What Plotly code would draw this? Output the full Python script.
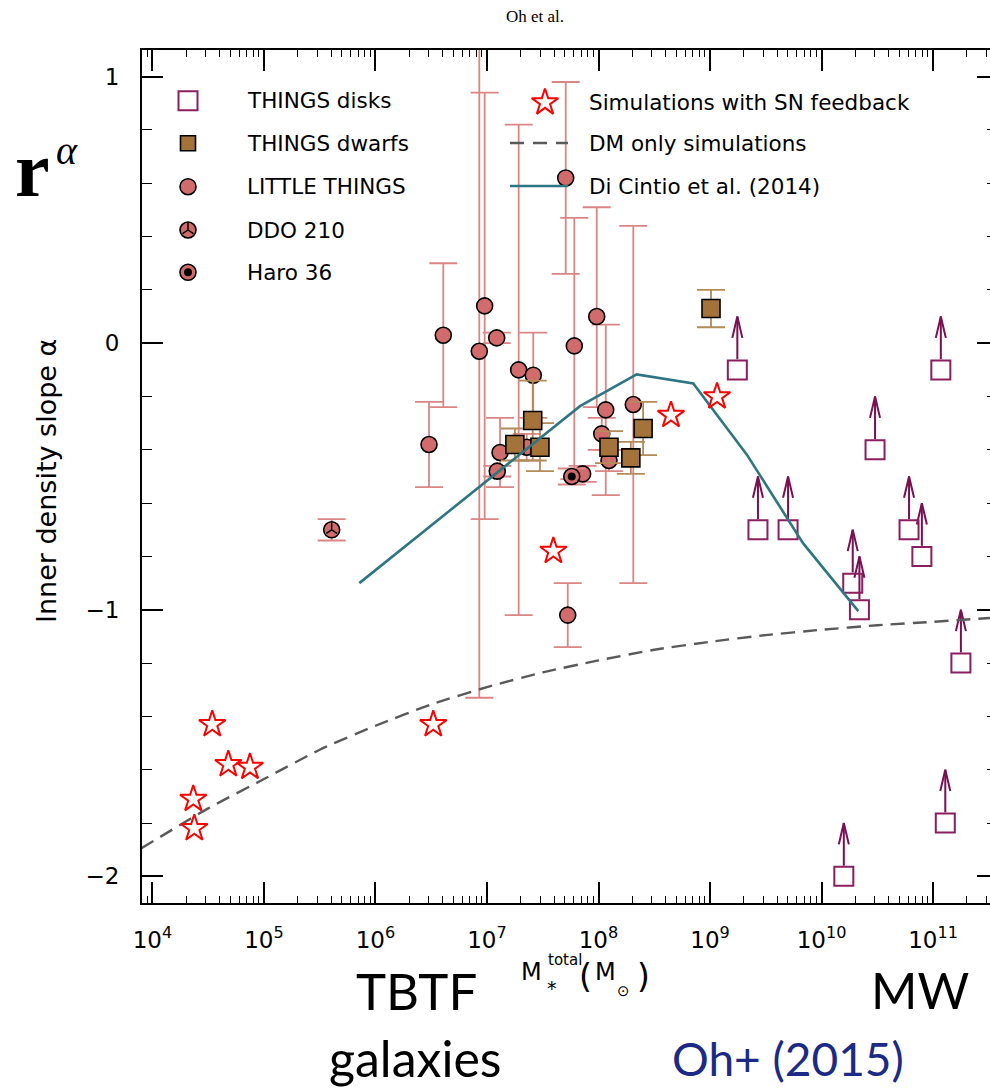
import plotly.graph_objects as go

# ---------------- data (log10 of total stellar mass, inner slope alpha) ----------------
# THINGS disk galaxies: lower limits on alpha
disk_logm = [9.245, 10.48, 9.43, 9.70, 10.28, 10.34, 10.785, 10.90, 11.07, 11.25, 11.11, 10.20]
disk_alpha = [-0.10, -0.40, -0.70, -0.70, -0.90, -1.00, -0.70, -0.80, -0.10, -1.20, -1.80, -2.00]

# THINGS dwarf galaxies
dwarf_logm = [9.009, 7.41, 7.25, 7.475, 8.094, 8.40, 8.29]
dwarf_alpha = [0.13, -0.29, -0.38, -0.39, -0.39, -0.32, -0.43]
dwarf_err = [0.07, 0.15, 0.06, 0.09, 0.06, 0.10, 0.06]

# LITTLE THINGS dwarfs
lt_logm = [6.480, 6.608, 6.931, 6.979, 7.087, 7.117, 7.092, 7.284, 7.415, 7.356,
           7.706, 7.783, 7.724, 7.858, 7.984, 8.065, 8.029, 8.094, 8.312]
lt_alpha = [-0.38, 0.03, -0.03, 0.14, 0.02, -0.41, -0.48, -0.10, -0.12, -0.39,
            0.62, -0.01, -1.02, -0.49, 0.10, -0.25, -0.34, -0.44, -0.23]
lt_err_hi = [0.16, 0.27, 1.30, 0.80, 0.02, 0.13, 0.02, 0.92, 0.16, 0.05,
             0.36, 0.48, 0.12, 0.03, 0.41, 0.32, 0.06, 0.04, 0.67]
lt_err_lo = [0.16, 0.27, 1.30, 0.80, 0.02, 0.13, 0.02, 0.92, 0.16, 0.05,
             0.36, 0.50, 0.12, 0.03, 0.34, 0.32, 0.06, 0.04, 0.67]

# individually marked LITTLE THINGS galaxies
ddo210_logm, ddo210_alpha, ddo210_err = [5.607], [-0.70], [0.04]
haro36_logm, haro36_alpha, haro36_err = [7.76], [-0.50], [0.03]

# hydrodynamical simulations with supernova feedback
sim_logm = [4.366, 4.375, 4.536, 4.680, 4.874, 6.518, 7.595, 8.650, 9.063]
sim_alpha = [-1.71, -1.82, -1.43, -1.58, -1.59, -1.43, -0.78, -0.27, -0.20]

# dark-matter-only simulations
dmo_logm = [3.90, 4.5, 5.0, 5.5, 6.0, 6.5, 7.0, 7.5, 8.0, 8.5, 9.0, 9.5, 10.0, 10.5, 11.0, 11.6]
dmo_alpha = [-1.895, -1.745, -1.635, -1.525, -1.435, -1.355, -1.29, -1.235, -1.19, -1.15,
             -1.12, -1.095, -1.075, -1.058, -1.045, -1.028]

# Di Cintio et al. (2014) relation
dc_logm = [5.855, 7.834, 8.342, 8.850, 9.329, 9.834, 10.33]
dc_alpha = [-0.90, -0.236, -0.117, -0.151, -0.417, -0.75, -1.005]

# axis ticks
x_tick_exp = [4, 5, 6, 7, 8, 9, 10, 11]
y_tick_vals = [-2, -1, 0, 1]
y_tick_text = ["\u22122", "\u22121", "0", "1"]

# ---------------- styles ----------------
W, H = 990, 1089
PLOT_L, PLOT_R, PLOT_T, PLOT_B = 142, 990, 50, 903
X_RANGE = [3.906, 11.511]
Y_RANGE = [-2.1, 1.1]

C_DISK = "#8a1f60"
C_ARROW = "#7a0f52"
C_DWARF = "#a4733a"
C_DWARF_ERR = "#b48a58"
C_LT = "#d26c6c"
C_LT_ERR = "#dc8585"
C_SIM = "#ff0000"
C_DMO = "#5a5a5a"
C_DC = "#2e7681"
C_NAVY = "#1c2a86"

TXT_FONT = "DejaVu Sans"
BIG_FONT = "Lato"
SERIF = "Liberation Serif"


def fx(px):
    return (px - PLOT_L) / (PLOT_R - PLOT_L)


def fy(py):
    return (PLOT_B - py) / (PLOT_B - PLOT_T)


def mass(logs):
    return [10 ** v for v in logs]


fig = go.Figure()

# LITTLE THINGS with error bars
fig.add_trace(go.Scatter(
    x=mass(lt_logm), y=lt_alpha, mode="markers",
    marker=dict(symbol="circle", size=16, color=C_LT, line=dict(color="black", width=1.6)),
    error_y=dict(type="data", array=lt_err_hi, arrayminus=lt_err_lo, color=C_LT_ERR,
                 thickness=1.8, width=14),
    showlegend=False, hoverinfo="skip"))

# DDO 210
fig.add_trace(go.Scatter(
    x=mass(ddo210_logm), y=ddo210_alpha, mode="markers",
    marker=dict(symbol="circle", size=16, color=C_LT, line=dict(color="black", width=1.6)),
    error_y=dict(type="data", array=ddo210_err, color=C_LT_ERR, thickness=1.8, width=14),
    showlegend=False, hoverinfo="skip"))
fig.add_trace(go.Scatter(
    x=mass(ddo210_logm), y=ddo210_alpha, mode="markers",
    marker=dict(symbol="y-up-open", size=9, color="black", line=dict(color="black", width=1.5)),
    showlegend=False, hoverinfo="skip"))

# Haro 36
fig.add_trace(go.Scatter(
    x=mass(haro36_logm), y=haro36_alpha, mode="markers",
    marker=dict(symbol="circle", size=16, color=C_LT, line=dict(color="black", width=1.6)),
    error_y=dict(type="data", array=haro36_err, color=C_LT_ERR, thickness=1.8, width=14),
    showlegend=False, hoverinfo="skip"))
fig.add_trace(go.Scatter(
    x=mass(haro36_logm), y=haro36_alpha, mode="markers",
    marker=dict(symbol="circle", size=8, color="black"),
    showlegend=False, hoverinfo="skip"))

# THINGS dwarfs
fig.add_trace(go.Scatter(
    x=mass(dwarf_logm), y=dwarf_alpha, mode="markers",
    marker=dict(symbol="square", size=18, color=C_DWARF, line=dict(color="black", width=1.6)),
    error_y=dict(type="data", array=dwarf_err, color=C_DWARF_ERR, thickness=1.8, width=14),
    showlegend=False, hoverinfo="skip"))

# THINGS disks with upward arrows (lower limits)
ARROW_BASE, ARROW_TIP, HEAD_LEN, HEAD_DEX = 0.04, 0.20, 0.08, 0.045
arr_x, arr_y = [], []
for lm, a in zip(disk_logm, disk_alpha):
    x0 = 10 ** lm
    tip = a + ARROW_TIP
    arr_x += [x0, x0, None, x0 * 10 ** -HEAD_DEX, x0, x0 * 10 ** HEAD_DEX, None]
    arr_y += [a + ARROW_BASE, tip, None, tip - HEAD_LEN, tip, tip - HEAD_LEN, None]
fig.add_trace(go.Scatter(
    x=arr_x, y=arr_y, mode="lines", line=dict(color=C_ARROW, width=2),
    showlegend=False, hoverinfo="skip"))
fig.add_trace(go.Scatter(
    x=mass(disk_logm), y=disk_alpha, mode="markers",
    marker=dict(symbol="square-open", size=19, color=C_DISK, line=dict(width=2)),
    showlegend=False, hoverinfo="skip"))

# model curves and simulation points (drawn on top)
fig.add_trace(go.Scatter(
    x=mass(dmo_logm), y=dmo_alpha, mode="lines", yaxis="y2",
    line=dict(color=C_DMO, width=2.4, dash="14px,8px", shape="spline", smoothing=0.6),
    showlegend=False, hoverinfo="skip"))
fig.add_trace(go.Scatter(
    x=mass(dc_logm), y=dc_alpha, mode="lines", yaxis="y2",
    line=dict(color=C_DC, width=2.6),
    showlegend=False, hoverinfo="skip"))
fig.add_trace(go.Scatter(
    x=mass(sim_logm), y=sim_alpha, mode="markers", yaxis="y2",
    marker=dict(symbol="star-open", size=20, color=C_SIM, line=dict(width=2)),
    showlegend=False, hoverinfo="skip"))

# ---------------- legend drawn inside the frame ----------------
LEG_LEFT_X, LEG_LEFT_TXT = 188, 245
LEG_LEFT_ROWS = [100.7, 143.3, 186.7, 230.0, 272.3]
LEG_RIGHT_X0, LEG_RIGHT_X1, LEG_RIGHT_TXT, LEG_STAR_X = 510, 568, 587, 545
LEG_RIGHT_ROWS = [102.5, 143.0, 186.0]

leg_marker = dict(xaxis="x2", yaxis="y3", mode="markers", showlegend=False, hoverinfo="skip")
lx = fx(LEG_LEFT_X)
fig.add_trace(go.Scatter(x=[lx], y=[fy(LEG_LEFT_ROWS[0])],
                         marker=dict(symbol="square-open", size=19, color=C_DISK, line=dict(width=2)),
                         **leg_marker))
fig.add_trace(go.Scatter(x=[lx], y=[fy(LEG_LEFT_ROWS[1])],
                         marker=dict(symbol="square", size=15, color=C_DWARF,
                                     line=dict(color="black", width=1.6)), **leg_marker))
fig.add_trace(go.Scatter(x=[lx, lx, lx], y=[fy(r) for r in LEG_LEFT_ROWS[2:]],
                         marker=dict(symbol="circle", size=16, color=C_LT,
                                     line=dict(color="black", width=1.6)), **leg_marker))
fig.add_trace(go.Scatter(x=[lx], y=[fy(LEG_LEFT_ROWS[3])],
                         marker=dict(symbol="y-up-open", size=9, color="black",
                                     line=dict(color="black", width=1.5)), **leg_marker))
fig.add_trace(go.Scatter(x=[lx], y=[fy(LEG_LEFT_ROWS[4])],
                         marker=dict(symbol="circle", size=8, color="black"), **leg_marker))
fig.add_trace(go.Scatter(x=[fx(LEG_STAR_X)], y=[fy(LEG_RIGHT_ROWS[0])],
                         marker=dict(symbol="star-open", size=20, color=C_SIM, line=dict(width=2)),
                         **leg_marker))
fig.add_trace(go.Scatter(x=[fx(LEG_RIGHT_X0), fx(LEG_RIGHT_X1)], y=[fy(LEG_RIGHT_ROWS[1])] * 2,
                         xaxis="x2", yaxis="y3", mode="lines",
                         line=dict(color=C_DMO, width=2.4, dash="14px,9px"),
                         showlegend=False, hoverinfo="skip"))
fig.add_trace(go.Scatter(x=[fx(LEG_RIGHT_X0), fx(LEG_RIGHT_X1)], y=[fy(LEG_RIGHT_ROWS[2])] * 2,
                         xaxis="x2", yaxis="y3", mode="lines",
                         line=dict(color=C_DC, width=2.6),
                         showlegend=False, hoverinfo="skip"))

left_labels = ["THINGS disks", "THINGS dwarfs", "LITTLE THINGS", "DDO 210", "Haro 36"]
right_labels = ["Simulations with SN feedback", "DM only simulations", "Di Cintio et al. (2014)"]

annotations = []
for lab, row in zip(left_labels, LEG_LEFT_ROWS):
    annotations.append(dict(x=fx(LEG_LEFT_TXT), y=fy(row), xref="paper", yref="paper",
                            text=lab, showarrow=False, xanchor="left", yanchor="middle",
                            font=dict(family=TXT_FONT, size=21.5, color="black")))
for lab, row in zip(right_labels, LEG_RIGHT_ROWS):
    annotations.append(dict(x=fx(LEG_RIGHT_TXT), y=fy(row), xref="paper", yref="paper",
                            text=lab, showarrow=False, xanchor="left", yanchor="middle",
                            font=dict(family=TXT_FONT, size=21.5, color="black")))


def label(text, px, py, size, family=TXT_FONT, color="black", angle=0, xanchor="center"):
    annotations.append(dict(x=fx(px), y=fy(py), xref="paper", yref="paper", text=text,
                            showarrow=False, xanchor=xanchor, yanchor="middle",
                            textangle=angle, font=dict(family=family, size=size, color=color)))


# page header and axis titles
label("Oh et al.", 535, 16, 17, family=SERIF)
label("Inner density slope \u03b1", 46, 481, 27, angle=-90)
label("<b>r</b>", 32, 170, 78, family=SERIF)
label("<i>\u03b1</i>", 67, 150, 40, family=SERIF)

# x-axis title: M_*^total (M_sun)
label("M", 531, 972, 24)
label("total", 546, 960, 15, xanchor="left")
label("*", 552, 988, 19)
label("(", 585, 976, 33)
label("M", 605, 972, 24)
label("\u2299", 623, 991, 15)
label(")", 643, 976, 33)

# slide captions
label("TBTF", 416, 990, 51, family=BIG_FONT)
label("MW", 920, 990, 50, family=BIG_FONT)
label("galaxies", 415, 1058, 50, family=BIG_FONT)
label("Oh+ (2015)", 788, 1058, 46, family=BIG_FONT, color=C_NAVY)

minor_x = [k * 10 ** n for n in range(3, 12) for k in range(2, 10)]

fig.update_layout(
    width=W, height=H,
    margin=dict(l=PLOT_L, r=W - PLOT_R, t=PLOT_T, b=H - PLOT_B, pad=0),
    paper_bgcolor="white", plot_bgcolor="white",
    showlegend=False,
    annotations=annotations,
    xaxis=dict(
        type="log", range=X_RANGE, showgrid=False, zeroline=False,
        showline=True, linecolor="black", linewidth=2, mirror="ticks",
        ticks="inside", ticklen=21, tickwidth=1.6, tickcolor="black",
        tickvals=[10 ** e for e in x_tick_exp],
        ticktext=["10<sup>%d</sup>" % e for e in x_tick_exp],
        tickfont=dict(family=TXT_FONT, size=23, color="black"),
        ticklabelstandoff=15,
        minor=dict(tickvals=minor_x, ticks="inside", ticklen=7, tickwidth=1.3,
                   tickcolor="black", showgrid=False),
    ),
    yaxis=dict(
        range=Y_RANGE, showgrid=False, zeroline=False,
        showline=True, linecolor="black", linewidth=2, mirror=False,
        ticks="inside", ticklen=21, tickwidth=1.6, tickcolor="black",
        tickvals=y_tick_vals, ticktext=y_tick_text,
        tickfont=dict(family=TXT_FONT, size=23, color="black"),
        ticklabelstandoff=16,
        minor=dict(dtick=0.2, tick0=0, ticks="inside", ticklen=10, tickwidth=1.3,
                   tickcolor="black", showgrid=False),
    ),
    yaxis2=dict(
        overlaying="y", side="right", anchor="x", matches="y", range=Y_RANGE,
        showgrid=False, zeroline=False, showline=False, showticklabels=False,
        ticks="inside", ticklen=13, tickwidth=1.6, tickcolor="black",
        tickvals=y_tick_vals,
        minor=dict(dtick=0.2, tick0=0, ticks="inside", ticklen=3, tickwidth=1.3,
                   tickcolor="black", showgrid=False),
    ),
    xaxis2=dict(overlaying="x", range=[0, 1], visible=False),
    yaxis3=dict(overlaying="y", range=[0, 1], visible=False),
)

fig.write_html("out.html")
